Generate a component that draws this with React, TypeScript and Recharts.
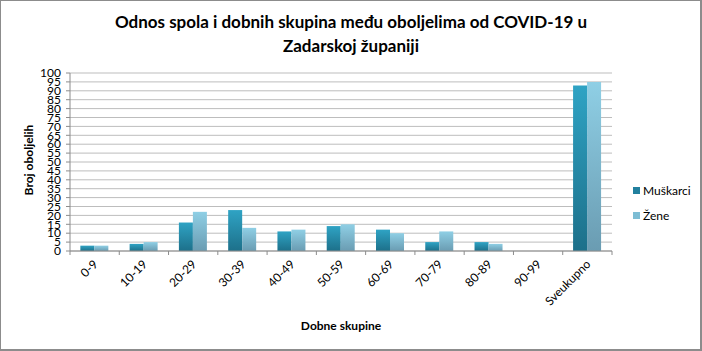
import React from 'react';
import { BarChart, Bar, XAxis, YAxis, CartesianGrid } from 'recharts';

const categories = ['0-9', '10-19', '20-29', '30-39', '40-49', '50-59', '60-69', '70-79', '80-89', '90-99', 'Sveukupno'];
const muskarci = [3, 4, 16, 23, 11, 14, 12, 5, 5, 0, 93];
const zene = [3, 5, 22, 13, 12, 15, 10, 11, 4, 0, 95];
const yTicks = [0, 5, 10, 15, 20, 25, 30, 35, 40, 45, 50, 55, 60, 65, 70, 75, 80, 85, 90, 95, 100];
const seriesNames = ['Muškarci', 'Žene'];
const seriesColors = ['#22809e', '#7dbdd4'];

const data = categories.map((name, i) => ({ name, Muškarci: muskarci[i], Žene: zene[i] }));

const FONT = 'Lato, "DejaVu Sans", sans-serif';
const AXIS_GRAY = '#8c8c8c';

const CategoryTick = (props: any) => {
  const { x, y, payload, index } = props;
  const half = payload.offset || 24.6;
  const axisY = y - 10;
  return (
    <g>
      <line x1={x - half} y1={axisY} x2={x - half} y2={axisY + 4} stroke={AXIS_GRAY} />
      {index === categories.length - 1 && (
        <line x1={x + half} y1={axisY} x2={x + half} y2={axisY + 4} stroke={AXIS_GRAY} />
      )}
      <text
        x={x + 4}
        y={y + 4}
        textAnchor="end"
        transform={`rotate(-45, ${x + 4}, ${y + 4})`}
        fontSize={12}
        fontFamily={FONT}
        fill="#000"
      >
        {payload.value}
      </text>
    </g>
  );
};

export default function App() {
  return (
    <div style={{ position: 'absolute', left: 0, top: 0, width: 702, height: 351, background: '#fff' }}>
      <BarChart
        width={702}
        height={351}
        data={data}
        margin={{ top: 73, right: 90, left: 0, bottom: 0 }}
        barCategoryGap="21%"
        barGap={0}
      >
        <defs>
          <linearGradient id="gM" x1="0" y1="0" x2="0" y2="1">
            <stop offset="0%" stopColor="#2fa3c4" />
            <stop offset="100%" stopColor="#1d708a" />
          </linearGradient>
          <linearGradient id="gZ" x1="0" y1="0" x2="0" y2="1">
            <stop offset="0%" stopColor="#8fcfe5" />
            <stop offset="100%" stopColor="#6a9cb2" />
          </linearGradient>
        </defs>
        <CartesianGrid horizontal vertical={false} stroke="#bdbdbd" />
        <XAxis
          dataKey="name"
          height={100}
          interval={0}
          tickSize={4}
          tickMargin={6}
          tickLine={false}
          axisLine={{ stroke: AXIS_GRAY }}
          tick={<CategoryTick />}
        />
        <YAxis
          width={70}
          domain={[0, 100]}
          ticks={yTicks}
          interval={0}
          tickSize={4}
          tickMargin={5}
          axisLine={{ stroke: AXIS_GRAY }}
          tickLine={{ stroke: AXIS_GRAY }}
          tick={{ fontSize: 12, fontFamily: FONT, fill: '#000' }}
        />
        <Bar dataKey="Muškarci" fill="url(#gM)" isAnimationActive={false} />
        <Bar dataKey="Žene" fill="url(#gZ)" isAnimationActive={false} />
      </BarChart>

      <div style={{ position: 'absolute', left: 633, top: 178, fontFamily: FONT, fontSize: 12, color: '#000' }}>
        {seriesNames.map((n, i) => (
          <div key={n} style={{ display: 'flex', alignItems: 'center', height: 25 }}>
            <span style={{ width: 7, height: 7, background: seriesColors[i], marginRight: 3 }} />
            {n}
          </div>
        ))}
      </div>

      <div
        style={{
          position: 'absolute',
          left: 0,
          top: 10,
          width: 702,
          textAlign: 'center',
          fontFamily: FONT,
          fontWeight: 700,
          fontSize: 17,
          lineHeight: '24px',
          color: '#000',
        }}
      >
        Odnos spola i dobnih skupina među oboljelima od COVID-19 u
        <br />
        Zadarskoj županiji
      </div>

      <div
        style={{
          position: 'absolute',
          left: 28,
          top: 160,
          transform: 'translate(-50%, -50%) rotate(-90deg)',
          whiteSpace: 'nowrap',
          fontFamily: FONT,
          fontWeight: 700,
          fontSize: 12,
          color: '#000',
        }}
      >
        Broj oboljelih
      </div>

      <div
        style={{
          position: 'absolute',
          left: 341,
          top: 325,
          transform: 'translate(-50%, -50%)',
          whiteSpace: 'nowrap',
          fontFamily: FONT,
          fontWeight: 700,
          fontSize: 12,
          color: '#000',
        }}
      >
        Dobne skupine
      </div>

      <div
        style={{
          position: 'absolute',
          left: 0,
          top: 0,
          width: 702,
          height: 351,
          boxSizing: 'border-box',
          borderTop: '1px solid #8c8c8c',
          borderLeft: '1px solid #8c8c8c',
          borderRight: '2px solid #8c8c8c',
          borderBottom: '2px solid #8c8c8c',
          pointerEvents: 'none',
        }}
      />
    </div>
  );
}
